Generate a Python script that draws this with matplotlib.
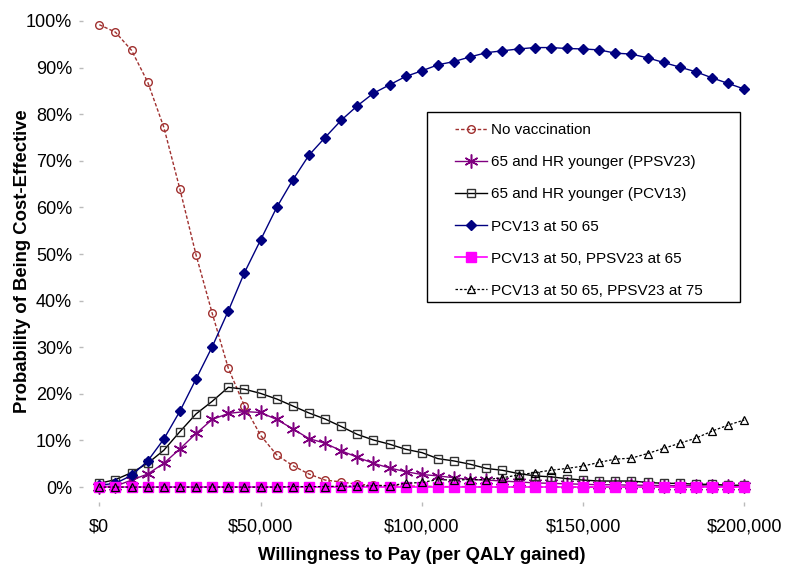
import matplotlib
matplotlib.use("Agg")
import matplotlib.pyplot as plt
from matplotlib.patches import Rectangle
from matplotlib.ticker import FuncFormatter

plt.rcParams['font.family'] = ['Liberation Sans', 'DejaVu Sans']

wtp = [i * 5000 for i in range(41)]

no_vacc = [99.2, 97.6, 93.7, 86.9, 77.2, 63.9, 49.8, 37.3, 25.5, 17.4, 11.1, 6.9, 4.6, 2.8, 1.5,
           1.1, 0.6, 0.4, 0.3, 0.2, 0.2, 0.1, 0.1, 0.1, 0.0, 0.0, 0.0, 0.0, 0.0, 0.0, 0.0,
           0.0, 0.0, 0.0, 0.0, 0.0, 0.0, 0.0, 0.0, 0.0, 0.0]
hr_ppsv23 = [0.1, 0.2, 1.5, 2.8, 5.1, 8.2, 11.5, 14.5, 15.8, 16.2, 16.0, 14.5, 12.5, 10.4, 9.4,
             7.8, 6.4, 5.1, 4.1, 3.3, 2.7, 2.4, 2.0, 1.6, 1.5, 1.3, 1.1, 0.9, 0.8, 0.7, 0.6,
             0.5, 0.5, 0.4, 0.4, 0.3, 0.3, 0.3, 0.2, 0.2, 0.2]
hr_pcv13 = [0.8, 1.6, 3.1, 5.1, 7.9, 11.9, 15.7, 18.4, 21.4, 21.0, 20.1, 18.9, 17.4, 15.9, 14.6,
            13.0, 11.3, 10.1, 9.2, 8.1, 7.4, 6.1, 5.6, 4.9, 4.0, 3.6, 2.9, 2.4, 2.2, 1.8, 1.5,
            1.3, 1.3, 1.3, 1.0, 0.8, 0.8, 0.6, 0.6, 0.4, 0.4]
pcv13_50_65 = [0.4, 0.8, 2.5, 5.6, 10.3, 16.3, 23.2, 30.1, 37.8, 46.0, 53.0, 60.0, 65.9, 71.2, 75.0,
               78.7, 81.8, 84.5, 86.3, 88.1, 89.3, 90.6, 91.3, 92.3, 93.2, 93.6, 94.0, 94.3, 94.3,
               94.1, 94.0, 93.8, 93.1, 92.9, 92.1, 91.1, 90.1, 89.1, 87.8, 86.6, 85.4]
pcv13_50_ppsv23_65 = [0.0] * 41
pcv13_50_65_ppsv23_75 = [0.0, 0.0, 0.0, 0.0, 0.0, 0.0, 0.0, 0.0, 0.0, 0.0, 0.0, 0.0, 0.1, 0.1, 0.1,
                         0.2, 0.2, 0.3, 0.3, 0.8, 1.0, 1.6, 1.5, 1.6, 1.6, 2.0, 2.6, 3.1, 3.6, 4.0,
                         4.5, 5.3, 6.0, 6.2, 7.2, 8.3, 9.4, 10.5, 12.0, 13.3, 14.4]

labels = ["No vaccination", "65 and HR younger (PPSV23)", "65 and HR younger (PCV13)",
          "PCV13 at 50 65", "PCV13 at 50, PPSV23 at 65", "PCV13 at 50 65, PPSV23 at 75"]

fig = plt.figure(figsize=(8, 5.72), dpi=100)
ax = fig.add_axes([0.104, 0.1224, 0.8465, 0.8409])

def pct(v):
    return [x / 100 for x in v]

ax.plot(wtp, pct(no_vacc), color='#A0302F', lw=1, ls=(0, (2.5, 1.5)), marker='o', ms=5.5,
        mfc='none', mec='#A0302F', mew=1, label=labels[0], clip_on=False, zorder=3)
ax.plot(wtp, pct(hr_ppsv23), color='#800080', lw=1, marker=(6, 2, 0), ms=10, mew=1.1,
        mec='#800080', label=labels[1], clip_on=False, zorder=3)
ax.plot(wtp, pct(hr_pcv13), color='black', lw=1, marker='s', ms=6, mfc='none',
        mec='#333333', mew=1, label=labels[2], clip_on=False, zorder=3)
ax.plot(wtp, pct(pcv13_50_65), color='#000080', lw=1, marker='D', ms=4.8, mfc='#000080',
        mec='#000080', label=labels[3], clip_on=False, zorder=3)
ax.plot(wtp, pct(pcv13_50_ppsv23_65), color='#FF00FF', lw=1.2, marker='s', ms=6.5, mfc='#FF00FF',
        mec='#FF00FF', label=labels[4], clip_on=False, zorder=4)
ax.plot(wtp, pct(pcv13_50_65_ppsv23_75), color='black', lw=0.9, ls=(0, (2, 1.5)), marker='^',
        ms=5.8, mfc='none', mec='black', mew=0.9, label=labels[5], clip_on=False, zorder=5)

ax.set_xlim(-5000, 205000)
ax.set_ylim(-0.032, 1.0)
ax.set_yticks([i / 10 for i in range(11)])
ax.set_xticks([0, 50000, 100000, 150000, 200000])
ax.yaxis.set_major_formatter(FuncFormatter(lambda v, p: f"{v*100:.0f}%"))
ax.xaxis.set_major_formatter(FuncFormatter(lambda v, p: f"${v:,.0f}"))
for s in ax.spines.values():
    s.set_visible(False)
ax.tick_params(axis='both', direction='out', length=3, width=1, color='#BBBBBB',
               labelsize=13, labelcolor='black')
ax.tick_params(axis='y', pad=5)
ax.tick_params(axis='x', pad=9)

ax.set_xlabel("Willingness to Pay (per QALY gained)", fontsize=13.3, fontweight='bold')
ax.set_ylabel("Probability of Being Cost-Effective", fontsize=13.3, fontweight='bold')
ax.xaxis.set_label_coords(0.5, -0.1104, transform=ax.transAxes)
ax.xaxis.label.set_va('center')
ax.yaxis.set_label_coords(-0.090, 0.5, transform=ax.transAxes)
ax.yaxis.label.set_va('center')

leg = ax.legend(loc='upper left', bbox_to_anchor=(0.549, 0.787), frameon=False, fontsize=11,
                handlelength=2.1, handletextpad=0.25, labelspacing=1.18, borderpad=0,
                borderaxespad=0)
ax.add_patch(Rectangle((0.508, 0.416), 0.462, 0.395, transform=ax.transAxes, fill=False,
                       edgecolor='black', lw=1, zorder=6))

fig.savefig("out.png", dpi=100, facecolor='white')
